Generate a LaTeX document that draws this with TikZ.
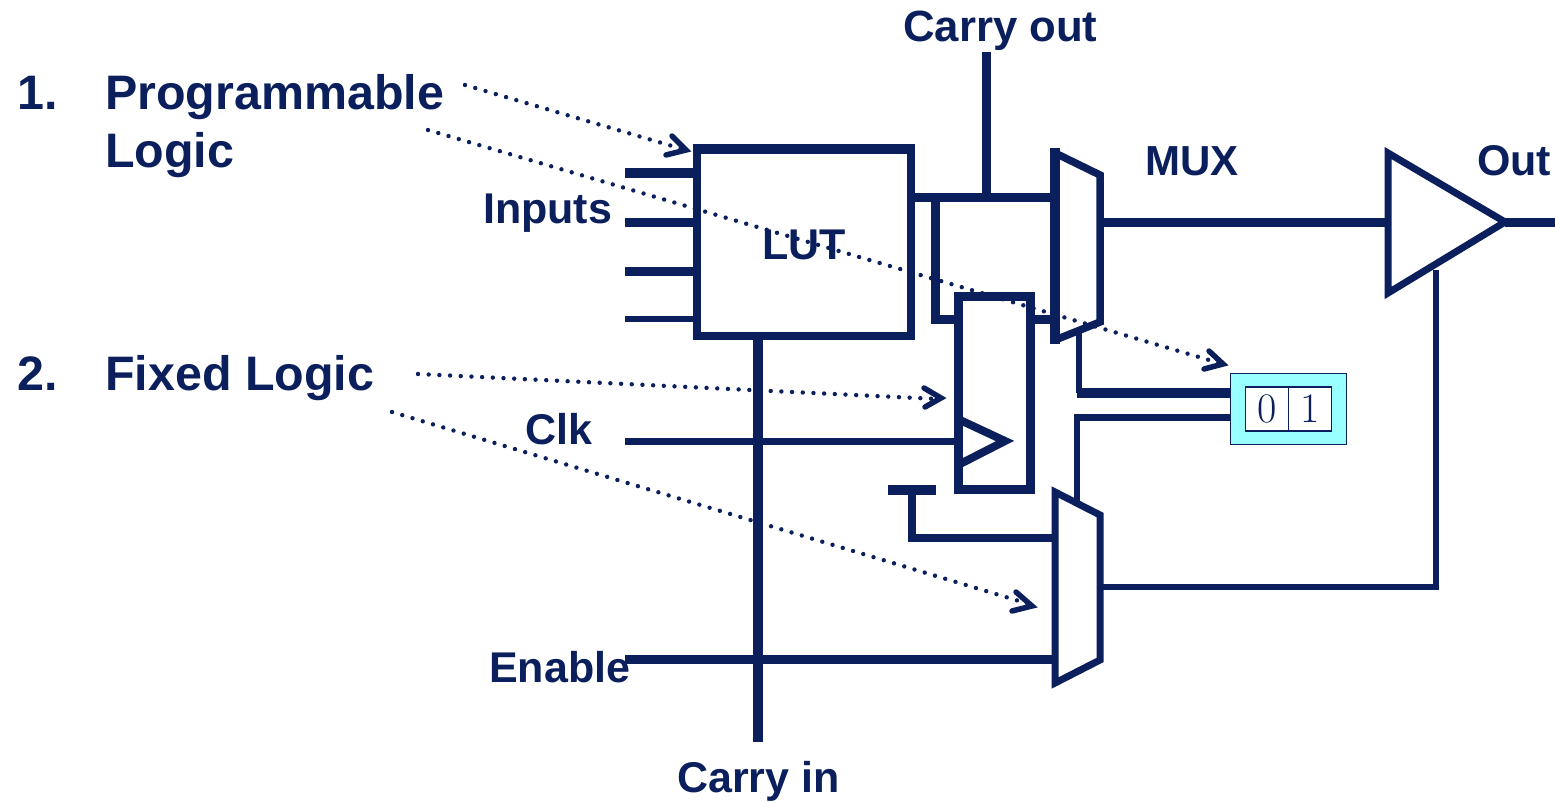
\documentclass[tikz,border=0pt]{standalone}
\usepackage{fontspec}
\setmainfont{Liberation Sans}
\newfontfamily\digitfont{Latin Modern Roman}
\usetikzlibrary{arrows.meta}
\definecolor{navy}{HTML}{0A1F5C}
\definecolor{cellcyan}{HTML}{99FFFF}
\tikzset{
  x=1pt,y=-1pt,
  wire/.style={draw=navy,line width=#1},
  wire/.default=8pt,
  big/.style={text=navy,inner sep=0pt,anchor=base west,font=\fontsize{48.4}{56}\selectfont\bfseries},
  lab/.style={text=navy,inner sep=0pt,anchor=base west,font=\fontsize{43}{50}\selectfont\bfseries},
  blockbox/.style={draw=navy,line width=8pt,fill=none,inner sep=0pt,outer sep=0pt,rectangle},
  dotline/.style={draw=navy,line width=4.4pt,line cap=round,dash pattern=on 0pt off 10.7pt},
  chevron/.style={draw=navy,line width=5.5pt,line cap=round,line join=miter},
  bitcell/.style={draw=navy,line width=1.5pt,fill=white,inner sep=0pt,minimum width=43pt,minimum height=44pt,
    font=\fontsize{42}{46}\selectfont\digitfont,text=navy},
}
\begin{document}
\begin{tikzpicture}
\useasboundingbox (0,0) rectangle (1555,801);
% text labels
\node[big] (n1) at (17,109) {1.};
\node[big] (prog) at (105,109) {Programmable};
\node[big] (logic) at (105,167) {Logic};
\node[big] (n2) at (17,390) {2.};
\node[big] (fixed) at (105,390) {Fixed Logic};
\node[lab,font=\fontsize{43.7}{50}\selectfont\bfseries] (cout) at (903,41) {Carry out};
\node[lab] (inputs) at (483,223) {Inputs};
\node[lab,font=\fontsize{42}{50}\selectfont\bfseries] (mux) at (1145,175) {MUX};
\node[lab] (out) at (1477,175) {Out};
\node[lab] (clk) at (525,444) {Clk};
\node[lab] (enable) at (489,682) {Enable};
\node[lab] (cin) at (677,792) {Carry in};
% dotted arrows
\coordinate (d1s) at (465,85);  \coordinate (d1e) at (684,149.5);
\coordinate (d2s) at (428,130); \coordinate (d2e) at (1221,363.5);
\coordinate (d3s) at (418,374); \coordinate (d3e) at (938,399);
\coordinate (d4s) at (392,412); \coordinate (d4e) at (1029,604);
\draw[dotline] (d1s) -- (d1e);
\draw[dotline] (d2s) -- (d2e);
\draw[dotline] (d3s) -- (d3e);
\draw[dotline] (d4s) -- (d4e);
\draw[chevron] (672,136) -- (686,150) -- (666,155);
\draw[chevron] (1209,351) -- (1223,364) -- (1204,369);
\draw[chevron] (924,388) -- (941,398) -- (925,407);
\draw[chevron] (1016,592) -- (1032,606) -- (1012,611);
% blocks
\node[blockbox,minimum width=214pt,minimum height=187pt] (lut) at (804,242.5) {};
\draw[wire=10pt] ([xshift=-4pt]lut.north west) -- ([xshift=4pt]lut.north east);
\node[lab] (luttext) at (762,259) {LUT};
\node[blockbox,line width=9pt,minimum width=72pt,minimum height=193pt] (ff) at (994,392.5) {};
% mux 1
\coordinate (m1a) at (1055,153); \coordinate (m1b) at (1100,175);
\coordinate (m1c) at (1100,322); \coordinate (m1d) at (1055,340);
\draw[wire=7.5pt,line join=miter] (m1a) -- (m1b) -- (m1c) -- (m1d);
\draw[wire=10pt] (1055,148) -- (1055,344);
% mux 2
\coordinate (m2a) at (1055,492); \coordinate (m2b) at (1100,515);
\coordinate (m2c) at (1100,660); \coordinate (m2d) at (1055,683);
\draw[wire=7pt,line join=miter] (m2a) -- (m2b) -- (m2c) -- (m2d) -- cycle;
% buffer
\coordinate (ba) at (1388,153); \coordinate (bb) at (1505,222); \coordinate (bc) at (1388,293);
\draw[wire=7pt,line join=miter] (ba) -- (bb) -- (bc) -- cycle;
% clock triangle
\coordinate (ca) at (960,420); \coordinate (cb) at (1005,441); \coordinate (cc) at (960,464);
\draw[wire=8pt,line join=miter] (ca) -- (cb) -- (cc);
% bit cell
\node[draw=navy,line width=1.5pt,fill=cellcyan,inner sep=0pt,outer sep=0pt,minimum width=116pt,minimum height=71pt] (cell) at (1288.5,409) {};
\node[bitcell] (bit0) at (1267,409) {0};
\node[bitcell] (bit1) at (1310,409) {1};
% input wires
\coordinate (i1) at (625,173); \coordinate (i2) at (625,222); \coordinate (i3) at (625,271); \coordinate (i4) at (625,319);
\draw[wire=10pt] (i1) -- (i1-|lut.west);
\draw[wire=9pt] (i2) -- (i2-|lut.west);
\draw[wire=9pt] (i3) -- (i3-|lut.west);
\draw[wire=6pt] (i4) -- (i4-|lut.west);
% carry chain
\coordinate (cinB) at (758,742);
\draw[wire=10pt] (lut.south-|cinB) -- (cinB);
\coordinate (coutT) at (986,52);
\coordinate (lo) at (1052,197);
\draw[wire=9pt] (lut.east|-lo) -- (lo);
\draw[wire=9pt] (coutT) -- (coutT|-lo);
\coordinate (fb) at (935,197); \coordinate (fbb) at (935,319);
\draw[wire=9pt] (fb) -- (fbb) -- (fbb-|ff.west);
\draw[wire=9pt] (ff.east|-fbb) -- (1052,319);
% clk, enable
\coordinate (clkS) at (625,441);
\draw[wire=7pt] (clkS) -- (clkS-|ff.west);
\coordinate (enS) at (625,659); \coordinate (enE) at (1053,659);
\draw[wire=9pt] (enS) -- (enE);
% constant stub to mux 2
\coordinate (tl) at (888,490); \coordinate (tr) at (936,490); \coordinate (tm) at (912,490); \coordinate (tb) at (912,538); \coordinate (te) at (1053,538);
\draw[wire=10pt] (tl) -- (tr);
\draw[wire=8pt] (tm) -- (tb) -- (te);
% outputs
\coordinate (m1o) at (1103,222); \coordinate (bi) at (1388,222); \coordinate (bo) at (1505,222); \coordinate (edge) at (1555,222);
\draw[wire=9pt] (m1o) -- (bi);
\draw[wire=9pt] (bo) -- (edge);
\coordinate (m2o) at (1101,587); \coordinate (en2) at (1436,587); \coordinate (en3) at (1436,270);
\draw[wire=6pt,line join=miter] (m2o) -- (en2) -- (en3);
% config wires
\coordinate (s1a) at (1079,332); \coordinate (s1b) at (1079,393); \coordinate (s2a) at (1077,505); \coordinate (s2b) at (1077,417);
\draw[wire=6pt] (s1a) -- (s1b);
\draw[wire=10pt] (1077,393) -- (s1b-|cell.west);
\draw[wire=6pt] (s2a) -- (s2b);
\draw[wire=7pt] (1074,417) -- (s2b-|cell.west);
\end{tikzpicture}
\end{document}
